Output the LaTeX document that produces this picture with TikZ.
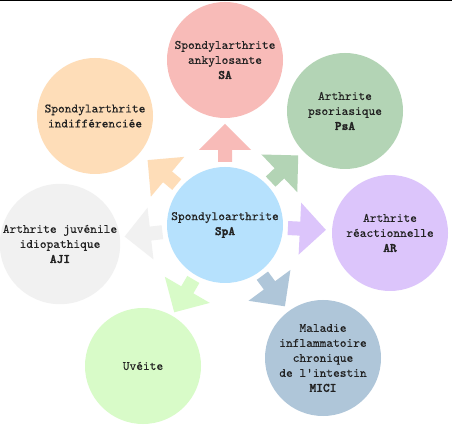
\documentclass[tikz,border=0pt]{standalone}
\usepackage{fontspec}
\setmonofont{lmmono10-regular.otf}[BoldFont=lmmonolt10-bold.otf, UprightFeatures={FakeBold=0.25}, BoldFeatures={FakeBold=2}]
\usetikzlibrary{calc}
\definecolor{cSA}{HTML}{F8BBB8}
\definecolor{cPsA}{HTML}{B3D4B5}
\definecolor{cAR}{HTML}{DCC5FB}
\definecolor{cMICI}{HTML}{AFC6D9}
\definecolor{cUV}{HTML}{D8FBC8}
\definecolor{cAJI}{HTML}{F1F1F1}
\definecolor{cIND}{HTML}{FEDDB8}
\definecolor{cSpA}{HTML}{B6E1FD}
\definecolor{txt}{HTML}{222222}
\begin{document}
\begin{tikzpicture}[x=1pt,y=1pt,
  bubble/.style={circle, minimum size=116pt, inner sep=0pt, align=center,
    font=\ttfamily\fontsize{12.8}{15}\selectfont, text=txt}]
\useasboundingbox (0,0) rectangle (452,428);
\fill[white] (0,0) rectangle (452,428);
\draw[line width=1.5pt] (0,427.25) -- (452,427.25);
\node[bubble, fill=cSpA] (spa) at (225,203) {Spondyloarthrite\\\textbf{SpA}};
\node[bubble, fill=cSA] (sa) at (225,368) {Spondylarthrite\\ankylosante\\\textbf{SA}};
\node[bubble, fill=cPsA] (psa) at (345,317) {Arthrite\\psoriasique\\\textbf{PsA}};
\node[bubble, fill=cAR] (ar) at (390,195) {Arthrite\\réactionnelle\\\textbf{AR}};
\node[bubble, fill=cMICI] (mici) at (323,70) {Maladie\\inflammatoire\\chronique\\de l'intestin\\\textbf{MICI}};
\node[bubble, fill=cUV] (uv) at (143,62) {Uvéite};
\node[bubble, fill=cAJI] (aji) at (60,184) {Arthrite juvénile\\idiopathique\\\textbf{AJI}};
\node[bubble, fill=cIND] (ind) at (95,312) {Spondylarthrite\\indifférenciée};
\foreach \n/\c in {sa/cSA, psa/cPsA, ar/cAR, mici/cMICI, uv/cUV, aji/cAJI, ind/cIND} {
  \pgfmathanglebetweenpoints{\pgfpointanchor{spa}{center}}{\pgfpointanchor{\n}{center}}
  \let\ang\pgfmathresult
  \fill[\c, shift={(spa.center)}, rotate=\ang]
    (63,-7) -- (75,-7) -- (75,-26) -- (101,0) -- (75,26) -- (75,7) -- (63,7) -- cycle;
}
\end{tikzpicture}
\end{document}
